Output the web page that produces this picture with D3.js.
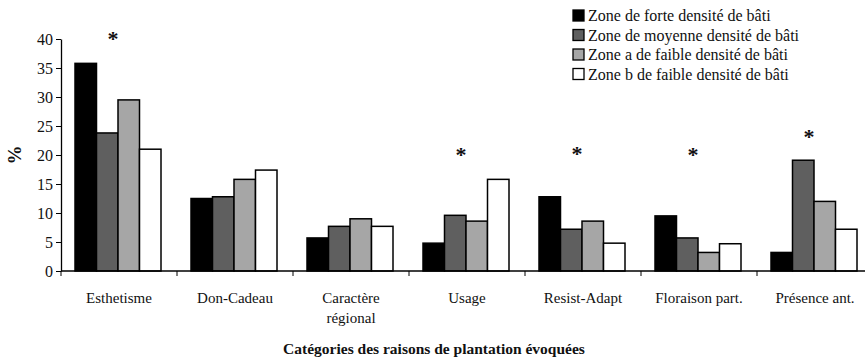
<!DOCTYPE html>
<html>
<head>
<meta charset="utf-8">
<script src="https://cdn.jsdelivr.net/npm/d3@7"></script>
<style>
  html, body { margin: 0; padding: 0; background: #fff; }
  svg { display: block; }
</style>
</head>
<body>
<svg id="chart" width="865" height="360"></svg>
<script>
// Reasons for planting, by building-density zone (%)
const categories = ["Esthetisme", "Don-Cadeau", "Caractère régional", "Usage", "Resist-Adapt", "Floraison part.", "Présence ant."];
const seriesNames = [
  "Zone de forte densité de bâti",
  "Zone de moyenne densité de bâti",
  "Zone a de faible densité de bâti",
  "Zone b de faible densité de bâti"
];
const forte   = [35.8, 12.5, 5.7, 4.8, 12.8, 9.5, 3.2];
const moyenne = [23.8, 12.8, 7.7, 9.6, 7.2, 5.7, 19.1];
const faibleA = [29.5, 15.8, 9.0, 8.6, 8.6, 3.2, 12.0];
const faibleB = [21.0, 17.4, 7.7, 15.8, 4.8, 4.7, 7.2];
// Categories with a significant difference between zones
const significant = ["Esthetisme", "Usage", "Resist-Adapt", "Floraison part.", "Présence ant."];
const yTicks = [0, 5, 10, 15, 20, 25, 30, 35, 40];

const seriesValues = [forte, moyenne, faibleA, faibleB];
const colors = ["#000000", "#5f5f5f", "#a6a6a6", "#ffffff"];
const SERIF = "Liberation Serif";

const svg = d3.select("#chart");
const x0 = 61, yBase = 271, yTop = 39;

const x = d3.scaleBand().domain(categories).range([x0, x0 + 116 * 7]).paddingInner(0).paddingOuter(0);
const xs = d3.scaleBand().domain(d3.range(seriesNames.length)).range([14, 100]).padding(0);
const y = d3.scaleLinear().domain([0, 40]).range([yBase, yTop]);

// bars
const groups = svg.append("g").selectAll("g")
  .data(categories)
  .join("g")
  .attr("transform", d => `translate(${x(d)},0)`);

groups.selectAll("rect")
  .data((d, i) => seriesValues.map((s, k) => ({ k, v: s[i] })))
  .join("rect")
  .attr("x", d => xs(d.k))
  .attr("y", d => y(d.v))
  .attr("width", xs.bandwidth())
  .attr("height", d => yBase - y(d.v))
  .attr("fill", d => colors[d.k])
  .attr("stroke", "#000")
  .attr("stroke-width", 1.5);

// significance markers
const starY = { "Esthetisme": 40.9, "Usage": 20.9, "Resist-Adapt": 21.0, "Floraison part.": 20.9, "Présence ant.": 24.0 };
svg.append("g").selectAll("text")
  .data(significant)
  .join("text")
  .attr("x", d => x(d) + x.bandwidth() / 2 - 6)
  .attr("y", d => y(starY[d]) + 12)
  .attr("text-anchor", "middle")
  .attr("font-size", 22)
  .attr("font-weight", "bold")
  .style("font-family", SERIF)
  .attr("fill", "#111")
  .text("*");

// y axis
const yAxis = d3.axisLeft(y).tickValues(yTicks).tickSize(5).tickSizeOuter(0).tickPadding(3);
const gy = svg.append("g").attr("transform", `translate(${x0},0)`).call(yAxis);
gy.select(".domain").attr("stroke", "#000").attr("stroke-width", 1.3);
gy.selectAll(".tick line").attr("stroke", "#000");
gy.selectAll(".tick text").attr("font-size", 16).style("font-family", SERIF).attr("fill", "#111");

// x axis with ticks between categories
const gx = svg.append("g").attr("transform", `translate(0,${yBase})`);
gx.append("line").attr("x1", x0).attr("x2", x0 + 116 * 7).attr("stroke", "#000").attr("stroke-width", 1.3);
gx.selectAll("line.tk")
  .data(categories.concat(["end"]))
  .join("line")
  .attr("class", "tk")
  .attr("x1", (d, i) => x0 + i * x.bandwidth())
  .attr("x2", (d, i) => x0 + i * x.bandwidth())
  .attr("y1", 0).attr("y2", 5)
  .attr("stroke", "#000");

// category labels, the long one split over two lines
const lbl = svg.append("g").selectAll("text")
  .data(categories)
  .join("text")
  .attr("x", d => x(d) + x.bandwidth() / 2)
  .attr("y", 303)
  .attr("text-anchor", "middle")
  .attr("font-size", 15)
  .style("font-family", SERIF)
  .attr("fill", "#111");
lbl.each(function(d) {
  const parts = d === "Caractère régional" ? ["Caractère", "régional"] : [d];
  d3.select(this).selectAll("tspan").data(parts).join("tspan")
    .attr("x", x(d) + x.bandwidth() / 2)
    .attr("dy", (p, i) => i === 0 ? 0 : 20)
    .text(p => p);
});

// axis titles
svg.append("text")
  .attr("x", 434).attr("y", 354)
  .attr("text-anchor", "middle")
  .attr("font-size", 15.5).attr("font-weight", "bold")
  .style("font-family", SERIF)
  .attr("fill", "#111")
  .text("Catégories des raisons de plantation évoquées");

svg.append("text")
  .attr("transform", "translate(21,155) rotate(-90)")
  .attr("text-anchor", "middle")
  .attr("font-size", 19).attr("font-weight", "bold")
  .style("font-family", SERIF)
  .attr("fill", "#111")
  .text("%");

// legend
const lg = svg.append("g").attr("transform", "translate(573,8)");
const rows = lg.selectAll("g").data(seriesNames).join("g")
  .attr("transform", (d, i) => `translate(0,${i * 19.5})`);
rows.append("rect")
  .attr("x", 0).attr("y", 2).attr("width", 11).attr("height", 11)
  .attr("fill", (d, i) => colors[i])
  .attr("stroke", "#000").attr("stroke-width", 1.3);
rows.append("text")
  .attr("x", 15).attr("y", 13)
  .attr("font-size", 16)
  .style("font-family", SERIF)
  .attr("fill", "#111")
  .text(d => d);
</script>
</body>
</html>
